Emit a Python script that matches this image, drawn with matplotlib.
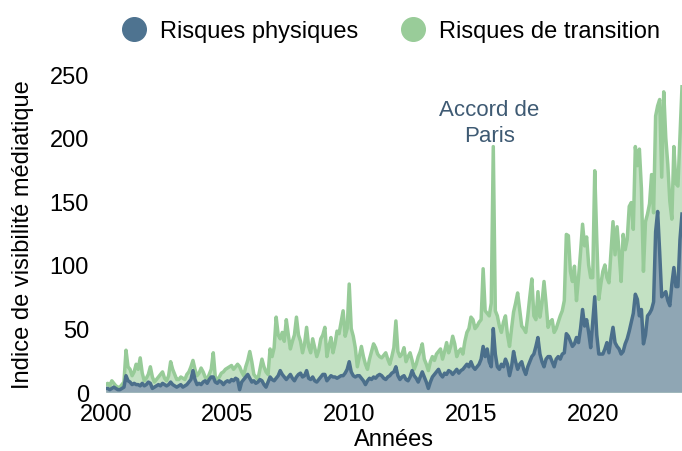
import numpy as np
import matplotlib
matplotlib.use("Agg")
import matplotlib.pyplot as plt

plt.rcParams['font.family'] = ['Liberation Sans', 'DejaVu Sans']

start_year = 2000
# monthly values, Jan 2000 -> Sep 2023
transition = [
    6, 7, 5, 9, 7, 5, 4, 4, 6, 8, 33, 20,
    18, 13, 16, 22, 18, 27, 15, 9, 11, 14, 20, 12,
    8, 10, 12, 14, 16, 11, 9, 13, 24, 18, 14, 10,
    10, 12, 11, 10, 14, 16, 20, 25, 18, 13, 15, 19,
    16, 12, 10, 14, 18, 31, 12, 10, 12, 15, 16, 18,
    19, 20, 21, 18, 20, 22, 20, 16, 13, 20, 25, 32,
    24, 14, 12, 10, 18, 26, 20, 16, 14, 34, 28, 35,
    59, 45, 42, 47, 40, 57, 45, 34, 40, 45, 59, 45,
    40, 31, 38, 51, 36, 31, 42, 35, 28, 33, 42, 45,
    51, 28, 36, 43, 31, 38, 48, 46, 55, 64, 44, 50,
    85, 50, 44, 35, 20, 28, 36, 28, 22, 18, 26, 32,
    38, 35, 30, 28, 27, 29, 31, 26, 22, 28, 35, 56,
    32, 28, 30, 35, 24, 28, 31, 25, 18, 22, 28, 32,
    38, 26, 22, 17, 24, 28, 25, 30, 32, 34, 26, 32,
    39, 31, 36, 44, 38, 28, 32, 34, 30, 40, 47, 50,
    59, 57, 50, 52, 55, 57, 97, 64, 62, 60, 70, 193,
    64, 60, 52, 47, 55, 60, 45, 36, 50, 63, 70, 78,
    65, 52, 50, 47, 60, 75, 89, 60, 57, 79, 59, 70,
    87, 70, 51, 55, 57, 47, 50, 55, 60, 64, 72, 124,
    123, 95, 87, 99, 72, 90, 110, 132, 115, 122, 100, 90,
    90, 174, 120, 73, 85, 95, 100, 90, 86, 110, 134, 108,
    130, 110, 87, 124, 112, 120, 146, 149, 128, 193, 178, 191,
    160, 95, 134, 140, 148, 171, 141, 217, 225, 230, 169, 236,
    200, 179, 150, 136, 193, 164, 162, 200, 240,
]
physical = [
    3, 3, 2, 3, 4, 3, 2, 2, 3, 4, 13, 9,
    8, 6, 7, 6, 6, 5, 7, 5, 6, 8, 7, 3,
    4, 5, 6, 5, 7, 6, 5, 6, 8, 6, 5, 4,
    5, 6, 4, 5, 6, 8, 10, 17, 10, 6, 7, 6,
    8, 9, 7, 10, 12, 12, 8, 7, 9, 8, 6, 8,
    9, 8, 10, 9, 11, 10, 2, 8, 10, 12, 14, 11,
    8, 9, 7, 8, 10, 9, 6, 4, 8, 12, 10, 9,
    11, 13, 17, 14, 12, 10, 12, 14, 11, 9, 12, 14,
    15, 12, 13, 17, 11, 10, 12, 9, 8, 10, 12, 14,
    14, 9, 11, 13, 12, 12, 11, 12, 13, 13, 15, 18,
    24, 16, 13, 12, 13, 13, 11, 9, 6, 9, 11, 10,
    12, 11, 13, 14, 13, 11, 10, 12, 13, 15, 16, 20,
    13, 10, 12, 13, 10, 9, 12, 17, 13, 11, 8, 12,
    16, 12, 8, 3, 8, 12, 14, 16, 18, 14, 12, 15,
    14, 17, 16, 14, 16, 18, 15, 17, 18, 20, 22, 20,
    24, 20, 18, 20, 22, 26, 36, 28, 34, 24, 20, 50,
    30, 20, 18, 22, 20, 26, 22, 13, 20, 32, 24, 18,
    22, 24, 18, 14, 20, 24, 28, 30, 36, 43, 30, 24,
    20, 26, 28, 28, 24, 20, 26, 28, 26, 30, 31, 46,
    44, 40, 36, 38, 43, 39, 50, 65, 52, 57, 47, 35,
    55, 75, 45, 30, 30, 30, 34, 39, 31, 42, 51, 39,
    36, 34, 30, 32, 38, 42, 48, 55, 62, 77, 73, 60,
    65, 38, 45, 60, 62, 65, 71, 126, 142, 110, 75, 77,
    79, 72, 68, 85, 98, 83, 83, 120, 140,
]
labels = ["Risques physiques", "Risques de transition"]
annotation = "Accord de\nParis"
annotation_year = 2015.75
annotation_y = 212

x = start_year + np.arange(len(transition)) / 12

blue_line = "#4b6f8b"
blue_fill = "#8fa6b4"
green_line = "#97cb98"
green_fill = "#c3e1c3"

fig = plt.figure(figsize=(6.82, 4.52), dpi=100)
ax = fig.add_axes([0.155, 0.13, 0.845, 0.704])

ax.fill_between(x, 0, transition, color=green_fill, lw=0)
ax.plot(x, transition, color=green_line, lw=2.5)
ax.fill_between(x, 0, physical, color=blue_fill, lw=0)
ax.plot(x, physical, color=blue_line, lw=2.5)

ax.set_xlim(2000, x[-1])
ax.set_ylim(0, 250)
ax.set_xticks([2000, 2005, 2010, 2015, 2020])
ax.set_yticks([0, 50, 100, 150, 200, 250])
ax.tick_params(length=0, labelsize=17)
ax.tick_params(axis="y", pad=12)
ax.tick_params(axis="x", pad=8)
for s in ax.spines.values():
    s.set_visible(False)

ax.set_xlabel("Années", fontsize=17, labelpad=2)
ax.set_ylabel("Indice de visibilité médiatique", fontsize=17, labelpad=11)

ax.text(annotation_year, annotation_y, annotation, ha="center", va="center",
        fontsize=16, color="#3e5a73", linespacing=1.3)

handles = [
    plt.Line2D([], [], ls="", marker="o", ms=17, color="#4e7390"),
    plt.Line2D([], [], ls="", marker="o", ms=17, color="#99cc99"),
]
fig.legend(handles, labels, loc="upper center", bbox_to_anchor=(0.565, 1.0),
           ncol=2, frameon=False, fontsize=17, handletextpad=0.1,
           columnspacing=1.3)

fig.savefig("out.png", dpi=100)
